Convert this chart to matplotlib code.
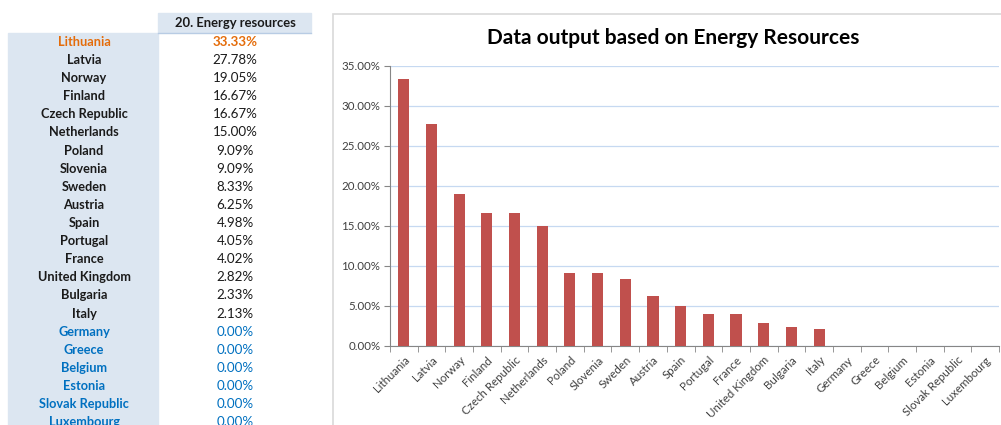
import numpy as np
import matplotlib
matplotlib.use('Agg')
import matplotlib.pyplot as plt
from matplotlib.patches import Rectangle
from matplotlib.ticker import FuncFormatter, FixedLocator

countries = ['Lithuania', 'Latvia', 'Norway', 'Finland', 'Czech Republic',
             'Netherlands', 'Poland', 'Slovenia', 'Sweden', 'Austria', 'Spain',
             'Portugal', 'France', 'United Kingdom', 'Bulgaria', 'Italy',
             'Germany', 'Greece', 'Belgium', 'Estonia', 'Slovak Republic',
             'Luxembourg']
values = [33.33, 27.78, 19.05, 16.67, 16.67, 15.00, 9.09, 9.09, 8.33, 6.25,
          4.98, 4.05, 4.02, 2.82, 2.33, 2.13, 0.00, 0.00, 0.00, 0.00, 0.00,
          0.00]
column_title = '20. Energy resources'
chart_title = 'Data output based on Energy Resources'
y_ticks = [0, 5, 10, 15, 20, 25, 30, 35]

plt.rcParams['font.family'] = ['Lato', 'DejaVu Sans']

W, H = 1001, 425
fig = plt.figure(figsize=(W / 100, H / 100), dpi=100)


def fx(px):
    return px / W


def fy(py):
    return 1 - py / H


# ---- left table ----
blue_bg = '#dce6f1'
fig.patches.append(Rectangle((fx(8), fy(425)), fx(150), fy(33) - fy(425),
                             transform=fig.transFigure, color=blue_bg, zorder=0))
fig.patches.append(Rectangle((fx(158), fy(32)), fx(153), fy(13) - fy(32),
                             transform=fig.transFigure, color=blue_bg, zorder=0))
fig.lines.append(plt.Line2D([fx(158), fx(311)], [fy(32.5), fy(32.5)],
                            transform=fig.transFigure, color='#b8cce4', lw=1))
fig.text(fx(235), fy(23), column_title, ha='center', va='center',
         fontsize=9.4, fontweight='bold', color='#1a1a1a')

for i, (c, v) in enumerate(zip(countries, values)):
    y = 42 + i * 18.1
    if i == 0:
        col = '#e46c0a'
    elif v == 0:
        col = '#0070c0'
    else:
        col = '#1a1a1a'
    fig.text(fx(84), fy(y), c, ha='center', va='center', fontsize=9.2,
             fontweight='bold', color=col)
    fig.text(fx(235), fy(y), '%.2f%%' % v, ha='center', va='center',
             fontsize=9.6, fontweight='bold' if i == 0 else 'normal', color=col)

# ---- chart frame ----
fig.patches.append(Rectangle((fx(333), -0.1), 1.0, fy(14) + 0.1,
                             transform=fig.transFigure, fill=False,
                             edgecolor='#d9d9d9', lw=1.2, zorder=0))
fig.text(fx(673), fy(38), chart_title, ha='center', va='center',
         fontsize=15, fontweight='bold', color='black')

ax = fig.add_axes([fx(390), fy(346), fx(999) - fx(390), fy(66) - fy(346)])
x = np.arange(len(countries))
ax.bar(x, values, width=0.4, color='#c0504d', zorder=3)

ax.set_xlim(-0.5, len(countries) - 0.5)
ax.set_ylim(0, 35)
ax.set_yticks(y_ticks)
ax.yaxis.set_major_formatter(FuncFormatter(lambda v, p: '%.2f%%' % v))
ax.grid(axis='y', color='#c6d9f1', lw=0.9, zorder=0)
ax.set_xticks(x)
ax.set_xticklabels(countries, rotation=45, ha='right', rotation_mode='anchor')
ax.xaxis.set_minor_locator(FixedLocator(np.arange(len(countries) + 1) - 0.5))
ax.tick_params(axis='x', which='major', length=0, pad=6, labelsize=8.3,
               labelcolor='#404040')
ax.tick_params(axis='x', which='minor', length=4, color='#868686')
ax.tick_params(axis='y', length=4, color='#868686', labelsize=8.3,
               labelcolor='#404040', pad=3)
for s in ['top', 'right']:
    ax.spines[s].set_visible(False)
for s in ['left', 'bottom']:
    ax.spines[s].set_color('#868686')

fig.savefig('out.png', dpi=100)
